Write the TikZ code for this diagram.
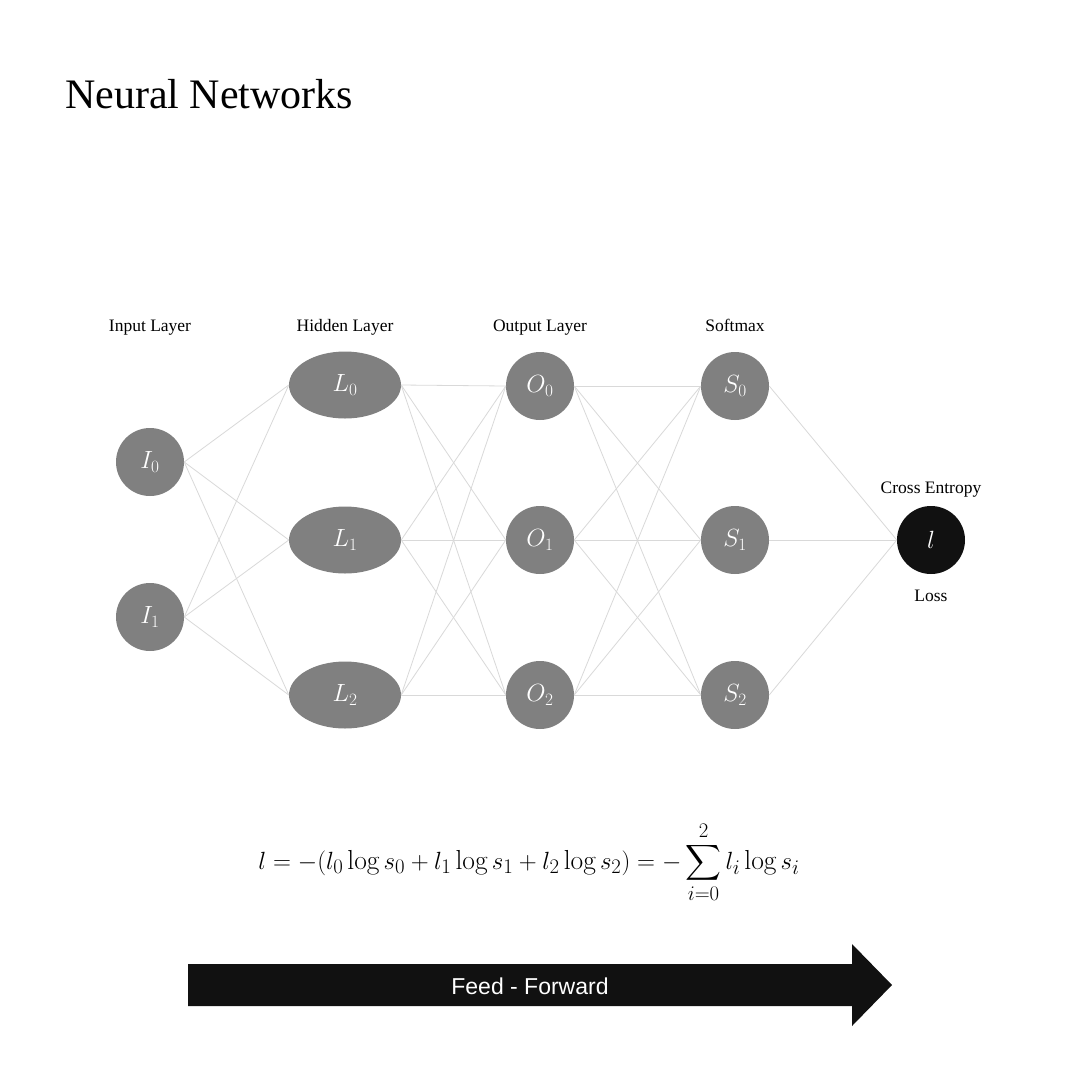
\documentclass[tikz,border=0pt]{standalone}
\usepackage{fontspec}
\usepackage{amsmath}
\newfontfamily\arialfont{Liberation Sans}
\newfontfamily\serifface{Liberation Serif}
\definecolor{nodegray}{HTML}{808080}
\definecolor{edgegray}{HTML}{D9D9D9}
\definecolor{nearblack}{HTML}{111111}
\usetikzlibrary{shapes.geometric}
\begin{document}
\begin{tikzpicture}[x=1pt,y=-1pt,
  neuron/.style={circle,fill=nodegray,draw=none,minimum size=68pt,inner sep=0pt,text=white,font=\fontsize{25}{28}\selectfont},
  hidden/.style={ellipse,fill=nodegray,draw=none,minimum width=112pt,minimum height=67pt,inner sep=0pt,text=white,font=\fontsize{25}{28}\selectfont},
  lossnode/.style={circle,fill=nearblack,draw=none,minimum size=68pt,inner sep=0pt,text=white,font=\fontsize{25}{28}\selectfont},
  layerlabel/.style={anchor=base,inner sep=0pt,font=\serifface\fontsize{17.5}{20}\selectfont},
  edge/.style={draw=edgegray,line width=0.8pt}
]
\useasboundingbox (0,0) rectangle (1080,1080);
\fill[white] (0,0) rectangle (1080,1080);

\node[anchor=base west,font=\serifface\fontsize{42}{48}\selectfont,inner sep=0pt] (title) at (65,108) {Neural Networks};

\node[layerlabel] (lin) at (150,331) {Input Layer};
\node[layerlabel] (lhid) at (345,331) {Hidden Layer};
\node[layerlabel] (lout) at (540,331) {Output Layer};
\node[layerlabel] (lsm) at (735,331) {Softmax};
\node[layerlabel] (lce) at (931,493) {Cross Entropy};
\node[layerlabel] (lloss) at (931,601) {Loss};

\node[neuron] (I0) at (150,462) {$I_0$};
\node[neuron] (I1) at (150,617) {$I_1$};
\node[hidden] (L0) at (345,385) {$L_0$};
\node[hidden] (L1) at (345,540) {$L_1$};
\node[hidden] (L2) at (345,695) {$L_2$};
\node[neuron] (O0) at (540,386) {$O_0$};
\node[neuron] (O1) at (540,540) {$O_1$};
\node[neuron] (O2) at (540,695) {$O_2$};
\node[neuron] (S0) at (735,386) {$S_0$};
\node[neuron] (S1) at (735,540) {$S_1$};
\node[neuron] (S2) at (735,695) {$S_2$};
\node[lossnode] (loss) at (931,540) {$l$};

\foreach \a in {I0,I1}{\foreach \b in {L0,L1,L2}{\draw[edge] (\a.east) -- (\b.west);}}
\foreach \a in {L0,L1,L2}{\foreach \b in {O0,O1,O2}{\draw[edge] (\a.east) -- (\b.west);}}
\foreach \a in {O0,O1,O2}{\foreach \b in {S0,S1,S2}{\draw[edge] (\a.east) -- (\b.west);}}
\foreach \a in {S0,S1,S2}{\draw[edge] (\a.east) -- (loss.west);}

\node[anchor=base,font=\fontsize{27.5}{31}\selectfont,inner sep=0pt] (formula) at (529,869)
  {$l=-(l_0\log s_0+l_1\log s_1+l_2\log s_2)=-\displaystyle\sum_{i=0}^{2} l_i\log s_i$};

\fill[nearblack] (188,964) -- (852,964) -- (852,944) -- (892,985) -- (852,1026) -- (852,1006) -- (188,1006) -- cycle;
\node[text=white,font=\arialfont\fontsize{23}{26}\selectfont] (fftext) at (530,986) {Feed - Forward};
\end{tikzpicture}
\end{document}
